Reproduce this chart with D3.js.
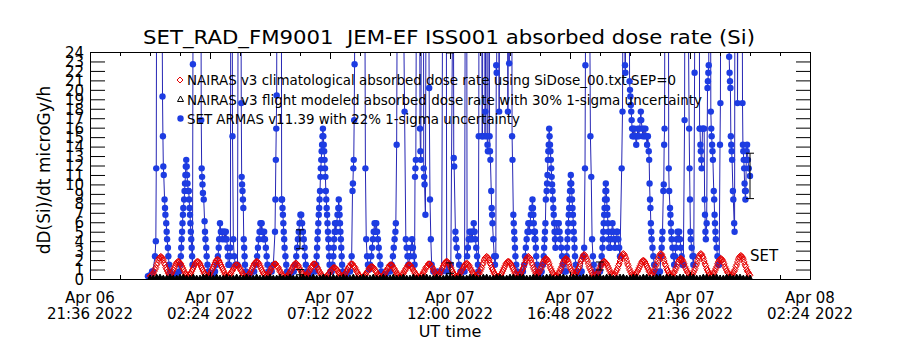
<!DOCTYPE html>
<html>
<head>
<meta charset="utf-8">
<script src="https://cdn.jsdelivr.net/npm/d3@7"></script>
<style>
body { margin: 0; background: #fff; }
text { font-family: "DejaVu Sans", sans-serif; fill: #000; white-space: pre; }
</style>
</head>
<body>
<div id="chart"></div>
<script>
// times of the data are minutes counted from Apr 07 2022 00:00 UT
var day0 = Date.UTC(2022, 3, 7);
var axisStart = new Date(Date.UTC(2022, 3, 6, 21, 36));
var axisEnd = new Date(Date.UTC(2022, 3, 8, 2, 24));

var tickDay = ["Apr 06", "Apr 07", "Apr 07", "Apr 07", "Apr 07", "Apr 07", "Apr 08"];
var tickTime = ["21:36 2022", "02:24 2022", "07:12 2022", "12:00 2022", "16:48 2022", "21:36 2022", "02:24 2022"];
var yTicks = [0,1,2,3,4,5,6,7,8,9,10,11,12,13,14,15,16,17,18,19,20,21,22,23,24];

var legendText = [
  "NAIRAS v3 climatological absorbed dose rate using SiDose_00.txt SEP=0",
  "NAIRAS v3 flight modeled absorbed dose rate with 30% 1-sigma uncertainty",
  "SET ARMAS v11.39 with 22% 1-sigma uncertainty"
];

// NAIRAS climatological, one value every 2 minutes (one row per orbit hump)
var climStep = 2;
var nairasClim = [
  0.3,0.3,0.4,0.5,0.6,0.8,1.0,1.2,1.5,1.7,2.0,2.2,2.3,2.4,2.3,2.2,2.0,1.7,1.5,1.2,1.0,0.8,0.6,0.5,
  0.4,0.5,0.6,0.8,1.0,1.2,1.4,1.6,1.7,1.8,1.9,1.8,1.7,1.6,1.4,1.2,1.0,0.8,0.6,0.5,0.4,0.3,
  0.3,0.4,0.5,0.6,0.8,1.0,1.2,1.4,1.6,1.7,1.8,1.9,1.8,1.7,1.6,1.4,1.2,1.0,0.8,0.6,0.5,0.4,0.3,0.2,
  0.3,0.4,0.5,0.7,0.9,1.1,1.3,1.5,1.7,1.9,2.0,2.1,2.0,1.9,1.7,1.5,1.3,1.1,0.9,0.7,0.5,0.4,0.3,
  0.2,0.3,0.4,0.5,0.6,0.8,0.9,1.1,1.2,1.4,1.5,1.5,1.5,1.4,1.2,1.1,0.9,0.8,0.6,0.5,0.4,0.3,0.2,0.2,
  0.3,0.4,0.5,0.6,0.8,1.0,1.2,1.4,1.6,1.7,1.8,1.9,1.8,1.7,1.6,1.4,1.2,1.0,0.8,0.6,0.5,0.4,0.3,
  0.3,0.4,0.5,0.7,0.8,1.0,1.2,1.3,1.4,1.6,1.6,1.6,1.4,1.3,1.2,1.0,0.8,0.7,0.5,0.4,0.3,0.2,0.2,
  0.2,0.3,0.3,0.4,0.6,0.7,0.9,1.0,1.2,1.4,1.5,1.6,1.7,1.6,1.5,1.4,1.2,1.0,0.9,0.7,0.6,0.4,0.3,0.3,
  0.3,0.4,0.5,0.7,0.8,1.0,1.2,1.3,1.4,1.6,1.6,1.6,1.4,1.3,1.2,1.0,0.8,0.7,0.5,0.4,0.3,0.2,0.2,
  0.2,0.2,0.3,0.4,0.5,0.6,0.7,0.9,1.0,1.1,1.2,1.2,1.2,1.1,1.0,0.9,0.7,0.6,0.5,0.4,0.3,0.2,
  0.3,0.4,0.5,0.7,0.8,1.0,1.2,1.3,1.4,1.6,1.6,1.6,1.4,1.3,1.2,1.0,0.8,0.7,0.5,0.4,0.3,0.2,0.2,
  0.2,0.3,0.3,0.4,0.5,0.7,0.8,0.9,1.1,1.2,1.3,1.3,1.3,1.2,1.1,0.9,0.8,0.7,0.5,0.4,0.3,0.3,0.2,
  0.2,0.3,0.4,0.5,0.6,0.8,0.9,1.1,1.2,1.4,1.5,1.5,1.5,1.4,1.2,1.1,0.9,0.8,0.6,0.5,0.4,0.3,0.2,
  0.3,0.4,0.5,0.6,0.8,0.9,1.1,1.2,1.4,1.5,1.5,1.5,1.4,1.2,1.1,0.9,0.8,0.6,0.5,0.4,0.3,0.2,0.2,
  0.2,0.3,0.4,0.5,0.7,0.8,1.0,1.2,1.3,1.4,1.6,1.6,1.6,1.4,1.3,1.2,1.0,0.8,0.7,0.5,0.4,0.3,
  0.4,0.5,0.6,0.8,1.0,1.2,1.4,1.6,1.7,1.8,1.9,1.8,1.7,1.6,1.4,1.2,1.0,0.8,0.6,0.5,0.4,0.3,0.2,
  0.3,0.3,0.4,0.6,0.7,0.9,1.0,1.2,1.4,1.5,1.6,1.7,1.6,1.5,1.4,1.2,1.0,0.9,0.7,0.6,0.4,0.3,0.3,0.2,
  0.4,0.5,0.6,0.8,1.0,1.2,1.5,1.7,2.0,2.2,2.3,2.4,2.3,2.2,2.0,1.7,1.5,1.2,1.0,0.8,0.6,0.5,0.4,0.3,0.3,
  0.2,0.3,0.4,0.5,0.6,0.8,1.0,1.2,1.4,1.6,1.7,1.8,1.9,1.8,1.7,1.6,1.4,1.2,1.0,0.8,0.6,0.5,0.4,0.3,0.2,
  0.4,0.5,0.6,0.8,1.0,1.2,1.5,1.7,2.0,2.2,2.3,2.4,2.3,2.2,2.0,1.7,1.5,1.2,1.0,0.8,0.6,0.5,
  0.4,0.6,0.7,0.9,1.1,1.3,1.6,1.8,2.0,2.1,2.2,2.1,2.0,1.8,1.6,1.3,1.1,0.9,0.7,0.6,0.4,0.3,0.3,
  0.3,0.4,0.6,0.7,0.9,1.1,1.3,1.6,1.8,2.0,2.1,2.2,2.1,2.0,1.8,1.6,1.3,1.1,0.9,0.7,0.6,0.4,0.3,
  0.5,0.7,0.9,1.1,1.3,1.6,1.9,2.1,2.3,2.5,2.6,2.5,2.3,2.1,1.9,1.6,1.3,1.1,0.9,0.7,0.5,0.4,0.3,
  0.3,0.4,0.5,0.6,0.8,1.0,1.2,1.4,1.6,1.7,1.8,1.9,1.8,1.7,1.6,1.4,1.2,1.0,0.8,0.6,0.5,0.4,0.3,
  0.4,0.5,0.7,0.9,1.1,1.4,1.6,1.9,2.2,2.4,2.6,2.7,2.6,2.4,2.2,1.9,1.6,1.4,1.1,0.9,0.7,0.5,0.4,0.3,
  0.3,0.4,0.5,0.7,0.8,1.0,1.2,1.4,1.6,1.8,1.9,2.0,1.9,1.8,1.6,1.4,1.2,1.0,0.8,0.7,0.5,0.4,
  0.5,0.7,0.9,1.1,1.4,1.6,1.9,2.2,2.4,2.6,2.7,2.6,2.4,2.2,1.9,1.6,1.4,1.1,0.9,0.7,0.5,0.4,0.3,
  0.3,0.4,0.6,0.7,0.9,1.1,1.3,1.6,1.8,2.0,2.1,2.2,2.1,2.0,1.8,1.6,1.3,1.1,0.9,0.7,0.6,0.4,0.3,0.3,
  0.4,0.5,0.7,0.9,1.1,1.4,1.6,1.9,2.2,2.4,2.6,2.7,2.6,2.4,2.2,1.9,1.6,1.4,1.1,0.9,0.7,0.5,0.4,0.3,
  0.3,0.4,0.6,0.7,0.9,1.1,1.3,1.6,1.8,2.0,2.1,2.2,2.1,2.0,1.8,1.6,1.3,1.1,0.9,0.7,0.6,0.4,0.3,0.3,
  0.4,0.5,0.7,0.8,1.0,1.3,1.5,1.8,2.1,2.3,2.4,2.5,2.4,2.3,2.1,1.8,1.5,1.3,1.0,0.8,0.7,0.5,0.4
];

// NAIRAS flight modeled, one value every 8 minutes
var flightStep = 8;
var nairasFlight = [
  0.1,0.1,0.2,0.2,0.1,0.1,0.2,0.1,0.1,0.2,
  0.2,0.1,0.1,0.2,0.1,0.1,0.2,0.2,0.1,0.1,
  0.2,0.1,0.1,0.2,0.1,0.1,0.2,0.1,0.1,0.2,
  0.1,0.1,0.2,0.1,0.1,0.1,0.2,0.1,0.1,0.2,
  0.1,0.1,0.2,0.1,0.1,0.1,0.2,0.1,0.1,0.2,
  0.1,0.1,0.2,0.1,0.1,0.2,0.1,0.1,0.2,0.1,
  0.1,0.2,0.1,0.1,0.2,0.1,0.1,0.2,0.1,0.1,
  0.2,0.1,0.1,0.2,0.1,0.1,0.2,0.1,0.1,0.2,
  0.1,0.1,0.2,0.2,0.1,0.1,0.2,0.1,0.1,0.2,
  0.2,0.1,0.1,0.2,0.1,0.1,0.2,0.2,0.1,0.1,
  0.2,0.2,0.1,0.1,0.2,0.2,0.1,0.1,0.2,0.2,
  0.1,0.2,0.2,0.1,0.1,0.2,0.2,0.1,0.1,0.2,
  0.2,0.1,0.1,0.2,0.2,0.1,0.1,0.2,0.2,0.1,
  0.2,0.2,0.1,0.1,0.2,0.2,0.1,0.2,0.2,0.1,
  0.1,0.2,0.2,0.1,0.1,0.2,0.2,0.1,0.2,0.2,
  0.1,0.1,0.2,0.2,0.1,0.2,0.2,0.1,0.1,0.2,
  0.2,0.1,0.2,0.2,0.1,0.1,0.2,0.2,0.1,0.2,
  0.2,0.1,0.1,0.2,0.2,0.1,0.2,0.2,0.1,0.1,
  0.1
];

// SET ARMAS measurements [minute, dose rate]; values above 24 run off the top
var setArmas = [
  [-5,0.3],[0,0.4],[5,0.8],[7,0.8],[12,2.4],[14,4.0],[15,11.7],[16,35],[29,30],[30,19.3],[31,15.1],[32,11.9],[33,11.0],[35,8.4],[36,7.5],[37,6.8],[39,5.9],[40,5.0],[41,4.2],[43,3.3],[44,2.4],[46,1.5],[48,0.8],[52,0.5],
  [62,0.5],[70,0.8],[72,1.5],[74,2.4],[75,3.3],[76,4.2],[77,5.0],[78,5.9],[79,6.8],[80,7.5],[82,8.4],[83,9.3],[84,10.1],[85,11.0],[86,11.9],[87,12.6],[88,11.9],[89,11.0],[90,10.1],[92,9.3],[93,9.3],[94,8.4],[95,7.5],[96,6.8],[97,5.9],[98,5.0],[99,4.2],[100,3.3],[101,2.4],[102,1.5],[103,22.7],[104,40],[122,40],[123,16.8],[124,11.7],[125,10.8],[126,10.0],[127,9.1],[129,8.4],[131,6.1],[132,5.0],[133,4.2],[135,3.3],[136,2.4],[138,1.5],[140,0.8],[144,0.5],
  [152,0.5],[156,0.8],[160,1.5],[163,2.4],[165,3.3],[166,4.2],[168,5.9],[170,5.0],[172,5.0],[174,4.2],[176,5.0],[178,5.0],[180,4.2],[182,5.0],[184,4.2],[186,3.3],[187,2.4],[188,1.5],[190,1.5],[192,2.4],[193,3.3],[194,40],[197,40],[198,15.1],[200,4.2],[202,2.4],[205,1.5],[210,1.5],[212,40],[218,40],[219,18.6],[220,10.8],[221,10.0],[222,9.3],[223,8.4],[224,7.5],[225,4.2],[226,3.3],[227,2.4],[228,1.5],[230,0.8],
  [240,0.5],[250,0.8],[254,1.5],[257,2.4],[259,3.3],[261,4.2],[263,5.0],[265,5.9],[267,5.0],[268,5.9],[270,5.0],[272,4.2],[274,5.0],[276,4.2],[278,3.3],[280,2.4],[282,1.5],[284,0.8],[292,0.8],[296,1.5],[300,5.0],[301,8.4],[302,12.6],[303,15.9],[304,19.4],[305,40],[315,40],[316,8.4],[317,8.4],[318,7.5],[319,6.8],[320,5.9],[321,5.0],[322,4.2],[323,3.3],[325,2.4],[327,1.5],[329,0.8],
  [338,0.5],[345,0.8],[348,1.5],[351,2.4],[353,3.3],[355,4.2],[357,5.0],[359,5.9],[361,6.8],[363,6.8],[365,5.9],[367,5.0],[369,4.2],[371,3.3],[372,2.4],[374,1.5],[376,0.8],[385,0.5],
  [396,0.8],[399,1.5],[400,2.4],[401,3.3],[402,4.2],[403,5.0],[404,5.9],[405,6.8],[406,7.5],[407,8.4],[408,9.3],[409,10.8],[410,11.7],[411,12.6],[412,13.5],[413,14.2],[414,15.1],[415,15.9],[416,15.1],[417,14.2],[418,13.5],[419,12.6],[420,11.7],[421,10.8],[422,9.3],[423,8.4],[424,7.5],[425,6.8],[426,5.9],[427,5.0],[428,4.2],[429,3.3],[430,2.4],[431,1.5],[433,0.8],
  [436,0.8],[438,1.5],[440,2.4],[441,3.3],[442,4.2],[443,5.0],[444,5.9],[446,5.0],[448,5.9],[450,6.8],[452,7.5],[453,8.4],[454,7.5],[455,6.8],[456,5.9],[457,5.0],[458,4.2],[459,3.3],[460,2.4],[461,1.5],[463,0.8],
  [472,0.5],[480,0.8],[484,2.4],[486,9.3],[487,10.1],[488,11.7],[489,12.6],[490,16.8],[491,22.7],[492,40],[515,40],[517,11.7],[519,4.2],[521,2.4],[523,1.5],[526,1.0],[528,1.5],[531,2.4],[533,3.3],[535,4.2],[537,5.0],[539,5.9],[541,5.0],[543,5.9],[545,5.0],[547,4.2],[549,3.3],[551,2.4],[553,1.5],[555,0.8],
  [566,0.5],[576,0.8],[580,1.5],[583,2.4],[585,3.3],[587,4.2],[589,5.0],[590,5.9],[592,14.2],[594,40],[606,40],[611,17.7],[614,4.2],[616,3.3],[618,2.4],[620,1.5],[624,2.4],[627,3.3],[629,4.2],[631,3.3],[633,2.4],[635,1.5],[636,10.8],[637,11.7],[638,12.6],[640,40],[647,40],[648,15.9],[649,13.5],[650,12.6],[652,40],[656,40],[657,11.7],[658,10.8],[659,10.0],[661,6.8],[663,40],[668,40],[670,20.2],[672,8.4],[674,4.2],[676,1.5],[680,0.8],
  [690,0.8],[700,0.8],[703,40],[711,40],[712,0.8],[716,1.5],[722,1.5],[728,40],[729,12.8],[730,11.9],[733,5.0],[734,4.2],[736,3.3],[740,2.4],[742,1.5],[745,0.8],
  [750,0.8],[755,0.8],[757,40],[760,40],[761,2.4],[763,3.3],[765,4.2],[767,5.0],[769,4.2],[771,5.0],[773,4.2],[775,5.0],[777,5.9],[779,5.0],[781,4.2],[783,3.3],[785,2.4],[787,1.5],[788,0.8],[789,15.1],[790,40],[796,40],[797,15.1],[798,15.1],[799,40],[803,40],[804,15.1],[805,17.7],[806,40],[808,40],[809,15.1],[810,14.2],[811,13.5],[812,40],[814,40],[815,15.1],[816,13.5],[817,12.6],[819,9.3],[820,7.5],[821,6.8],[822,5.9],[824,4.2],[826,2.4],[828,1.5],[830,2.4],[831,22.6],[832,21.8],[833,40],[836,40],[838,17.7],[839,40],[858,40],[859,17.7],[860,40],[862,22.8],[863,40],[868,40],[869,15.1],[870,12.6],[872,6.8],[873,5.9],[874,5.0],[875,4.2],[876,3.3],[877,2.4],[879,1.5],[882,0.8],
  [890,0.5],[895,0.8],[898,1.5],[900,2.4],[902,3.3],[904,4.2],[906,5.0],[908,5.9],[910,5.0],[912,5.9],[914,6.8],[916,7.5],[918,8.4],[919,7.5],[920,6.8],[921,5.9],[922,5.0],[923,4.2],[924,5.0],[925,4.2],[926,3.3],[927,2.4],[929,1.5],[931,0.8],
  [936,0.5],[940,0.8],[943,1.5],[945,2.4],[946,3.3],[947,4.2],[948,5.0],[949,5.9],[950,8.4],[952,9.3],[953,10.1],[954,11.0],[955,12.6],[956,13.5],[957,14.2],[958,15.9],[959,15.1],[960,14.2],[961,13.5],[962,12.6],[963,11.7],[964,10.8],[965,10.0],[966,9.3],[967,8.4],[968,7.5],[969,6.8],[970,5.9],[971,5.0],[972,4.2],[973,3.3],[975,5.9],[978,5.0],[981,5.9],[983,5.0],[985,4.2],[987,3.3],[989,2.4],[991,1.5],[994,0.8],
  [998,0.8],[1000,2.4],[1001,3.3],[1002,4.2],[1003,5.0],[1004,5.9],[1005,6.8],[1006,7.5],[1007,8.4],[1008,9.3],[1009,10.1],[1010,11.0],[1011,10.1],[1012,9.3],[1013,8.4],[1014,7.5],[1015,6.8],[1016,5.9],[1017,5.0],[1018,4.2],[1019,3.3],[1020,2.4],[1022,1.5],[1024,0.8],
  [1030,0.5],[1036,0.8],[1040,2.4],[1042,3.3],[1044,11.7],[1045,22.6],[1046,40],[1054,40],[1057,15.1],[1059,10.8],[1061,4.2],[1063,2.4],[1065,1.5],[1068,0.8],
  [1075,0.5],[1080,0.8],[1082,1.5],[1084,2.4],[1086,3.3],[1087,4.2],[1088,5.0],[1089,5.9],[1090,6.8],[1091,7.5],[1092,8.4],[1093,9.3],[1094,10.1],[1095,9.3],[1096,8.4],[1097,7.5],[1098,6.8],[1099,5.9],[1100,5.0],[1101,4.2],[1102,3.3],[1104,3.3],[1106,4.2],[1108,5.0],[1110,5.9],[1112,5.0],[1114,4.2],[1116,3.3],[1118,4.2],[1120,5.0],[1122,5.0],[1124,4.2],[1126,3.3],[1128,2.4],[1132,11.7],[1134,17.7],[1136,40],[1138,40],[1140,22.6],[1141,21.8],[1142,40],[1150,40],[1151,20.9],[1152,20.0],[1153,19.3],[1154,18.4],[1155,17.7],[1156,16.8],[1157,15.9],[1158,15.1],[1159,15.9],[1161,15.1],[1163,15.9],[1165,15.1],[1167,14.2],[1169,15.1],[1171,15.9],[1173,15.1],[1175,15.9],[1177,16.8],[1178,17.7],[1179,16.8],[1181,15.9],[1183,15.1],[1185,15.9],[1187,15.1],[1189,15.9],[1191,15.1],[1193,14.2],[1195,15.1],[1197,13.5],[1198,12.6],[1199,10.1],[1200,8.4],[1201,7.5],[1202,5.9],[1203,5.0],[1204,4.2],[1206,3.3],[1208,2.4],[1210,1.5],[1214,0.8],
  [1220,0.5],[1224,0.8],[1226,2.4],[1228,3.3],[1229,4.2],[1230,5.0],[1232,9.3],[1233,10.0],[1234,14.2],[1235,15.9],[1236,40],[1244,40],[1245,11.7],[1246,9.3],[1248,7.5],[1249,6.8],[1250,5.9],[1251,5.0],[1252,4.2],[1254,3.3],[1256,2.4],[1258,1.5],[1260,2.4],[1262,3.3],[1264,4.2],[1266,5.0],[1268,4.2],[1270,5.0],[1272,4.2],[1274,3.3],[1276,2.4],[1278,1.5],[1280,1.5],[1283,16.8],[1284,40],[1290,40],[1294,15.9],[1295,11.7],[1296,8.4],[1297,5.0],[1298,4.2],[1300,3.3],[1302,2.4],[1304,1.5],[1305,2.4],[1307,21.8],[1308,40],[1318,40],[1319,15.9],[1320,15.9],[1321,14.2],[1322,13.5],[1323,12.6],[1324,11.7],[1326,15.9],[1328,15.9],[1330,15.9],[1331,8.4],[1332,6.8],[1333,5.0],[1334,4.2],[1336,5.9],[1338,20.2],[1339,20.9],[1340,21.8],[1341,22.6],[1342,40],[1345,40],[1346,17.7],[1347,15.9],[1348,15.1],[1349,14.2],[1350,13.5],[1351,12.6],[1353,9.3],[1354,8.4],[1355,6.8],[1356,5.9],[1357,5.0],[1358,4.2],[1360,3.3],[1362,2.4],[1364,1.5],[1366,1.5],[1368,14.2],[1369,18.6],[1370,40],[1389,40],[1390,23.5],[1391,21.8],[1392,20.9],[1393,20.2],[1394,15.1],[1395,14.2],[1396,13.5],[1397,12.6],[1399,9.3],[1400,8.4],[1402,5.9],[1403,5.0],[1404,40],[1409,40],[1410,18.6],[1412,40],[1421,40],[1422,18.6],[1423,14.2],[1424,13.5],[1425,12.6],[1426,11.7],[1427,10.1],[1428,9.3],[1429,8.4],[1430,9.3],[1431,12.6],[1432,13.5],[1433,14.2],[1435,12.6],[1437,11.7],[1440,10.9]
];

// 1-sigma error bars every 6 hours
var errMinute = [360, 360, 720, 720, 1080, 1440];
var errLow = [3.2, 0.45, 23.9, 0.6, 0.95, 8.5];
var errHigh = [5.2, 1.0, 37, 1.7, 1.8, 13.3];

var svg = d3.select("#chart").append("svg")
            .attr("width", 900)
            .attr("height", 350);

var plotLeft = 90, plotRight = 810, plotTop = 52, plotBottom = 279;

var x = d3.scaleUtc().domain([axisStart, axisEnd]).range([plotLeft, plotRight]);
var y = d3.scaleLinear().domain([0, 24]).range([plotBottom, plotTop]);

function tm(m) { return new Date(day0 + m * 60000); }

svg.append("clipPath").attr("id", "plotclip")
   .append("rect").attr("x", plotLeft).attr("y", plotTop)
   .attr("width", plotRight - plotLeft).attr("height", plotBottom - plotTop);

var plot = svg.append("g").attr("clip-path", "url(#plotclip)");

// SET ARMAS line and dots
var line = d3.line()
             .x(function(d) { return x(tm(d[0])); })
             .y(function(d) { return y(d[1]); });
plot.append("path")
    .datum(setArmas)
    .attr("d", line)
    .attr("fill", "none")
    .attr("stroke", "#2626b4")
    .attr("stroke-width", 1);
plot.append("g").selectAll("circle")
    .data(setArmas.filter(function(d) { return d[1] <= 24; }))
    .enter().append("circle")
    .attr("cx", function(d) { return x(tm(d[0])); })
    .attr("cy", function(d) { return y(d[1]); })
    .attr("r", 3.2)
    .attr("fill", "#1d3ce2");

// NAIRAS climatological diamonds
plot.append("g").selectAll("path")
    .data(nairasClim)
    .enter().append("path")
    .attr("transform", function(d, i) { return "translate(" + x(tm(i * climStep)) + "," + y(d) + ")"; })
    .attr("d", "M0,-3L3,0L0,3L-3,0Z")
    .attr("fill", "none")
    .attr("stroke", "#e60000")
    .attr("stroke-width", 1);

// NAIRAS flight modeled triangles
plot.append("g").selectAll("path")
    .data(nairasFlight)
    .enter().append("path")
    .attr("transform", function(d, i) { return "translate(" + x(tm(i * flightStep)) + "," + y(d) + ")"; })
    .attr("d", "M0,-3L3,2.5L-3,2.5Z")
    .attr("fill", "#000")
    .attr("stroke", "#000")
    .attr("stroke-width", 1);

// error bars
var bars = plot.append("g").attr("stroke", "#000").attr("stroke-width", 1);
errMinute.forEach(function(m, i) {
    var cx = x(tm(m));
    bars.append("line").attr("x1", cx).attr("x2", cx).attr("y1", y(errLow[i])).attr("y2", y(errHigh[i]));
    bars.append("line").attr("x1", cx - 4).attr("x2", cx + 4).attr("y1", y(errLow[i])).attr("y2", y(errLow[i]));
    bars.append("line").attr("x1", cx - 4).attr("x2", cx + 4).attr("y1", y(errHigh[i])).attr("y2", y(errHigh[i]));
});

svg.append("text").attr("x", 750).attr("y", 261).style("font-size", "15px").text("SET");

// axes
var majorTicks = tickTime.map(function(d, i) { return new Date(+axisStart + i * 288 * 60000); });
var minorTicks = d3.range(0, 25).map(function(i) { return new Date(+axisStart + i * 72 * 60000); });

function frame(g) {
    g.selectAll(".domain").attr("stroke", "#000");
    g.selectAll(".tick line").attr("stroke", "#000");
    g.selectAll(".tick text").remove();
}

svg.append("g").attr("transform", "translate(0," + plotBottom + ")")
   .call(d3.axisBottom(x).tickValues(minorTicks).tickSize(-4).tickSizeOuter(0)).call(frame);
svg.append("g").attr("transform", "translate(0," + plotBottom + ")")
   .call(d3.axisBottom(x).tickValues(majorTicks).tickSize(-7).tickSizeOuter(0)).call(frame);
svg.append("g").attr("transform", "translate(0," + plotTop + ")")
   .call(d3.axisTop(x).tickValues(minorTicks).tickSize(-4).tickSizeOuter(0)).call(frame);
svg.append("g").attr("transform", "translate(0," + plotTop + ")")
   .call(d3.axisTop(x).tickValues(majorTicks).tickSize(-7).tickSizeOuter(0)).call(frame);
svg.append("g").attr("transform", "translate(" + plotRight + ",0)")
   .call(d3.axisRight(y).tickValues(yTicks).tickSize(-14).tickSizeOuter(0)).call(frame);

var yAxis = svg.append("g").attr("transform", "translate(" + plotLeft + ",0)")
   .call(d3.axisLeft(y).tickValues(yTicks).tickSize(-15).tickSizeOuter(0).tickPadding(6));
yAxis.selectAll(".domain").attr("stroke", "#000");
yAxis.selectAll(".tick line").attr("stroke", "#000");
yAxis.selectAll(".tick text")
     .attr("x", -6)
     .attr("dy", "0.36em")
     .style("font-size", "15px")
     .style("font-family", "DejaVu Sans")
     .attr("fill", "#000");

var xLabels = svg.append("g").style("font-size", "15px").attr("text-anchor", "middle");
majorTicks.forEach(function(t, i) {
    xLabels.append("text").attr("x", x(t)).attr("y", 303).text(tickDay[i]);
    xLabels.append("text").attr("x", x(t)).attr("y", 319).text(tickTime[i]);
});

svg.append("text").attr("x", 450).attr("y", 337).attr("text-anchor", "middle")
   .style("font-size", "16px").text("UT time");

svg.append("text")
   .attr("transform", "translate(50,170) rotate(-90)")
   .attr("text-anchor", "middle")
   .style("font-size", "17px")
   .text("dD(Si)/dt microGy/h");

svg.append("text").attr("x", 449).attr("y", 44).attr("text-anchor", "middle")
   .attr("textLength", 612).attr("lengthAdjust", "spacingAndGlyphs")
   .style("font-size", "20px")
   .text("SET_RAD_FM9001  JEM-EF ISS001 absorbed dose rate (Si)");

// legend
var legendY = [85, 104.5, 123.5];
var legendLen = [489, 515, 333];
var legend = svg.append("g");
legend.append("path").attr("transform", "translate(180,80)").attr("d", "M0,-3L3,0L0,3L-3,0Z")
      .attr("fill", "none").attr("stroke", "#e60000");
legend.append("path").attr("transform", "translate(180.5,99)").attr("d", "M0,-3L3,2.5L-3,2.5Z")
      .attr("fill", "none").attr("stroke", "#000");
legend.append("circle").attr("cx", 180.5).attr("cy", 118.5).attr("r", 3.2).attr("fill", "#1d3ce2");
legendText.forEach(function(t, i) {
    legend.append("text").attr("x", 187).attr("y", legendY[i])
          .attr("textLength", legendLen[i]).attr("lengthAdjust", "spacingAndGlyphs")
          .style("font-size", "13.5px").text(t);
});
</script>
</body>
</html>
